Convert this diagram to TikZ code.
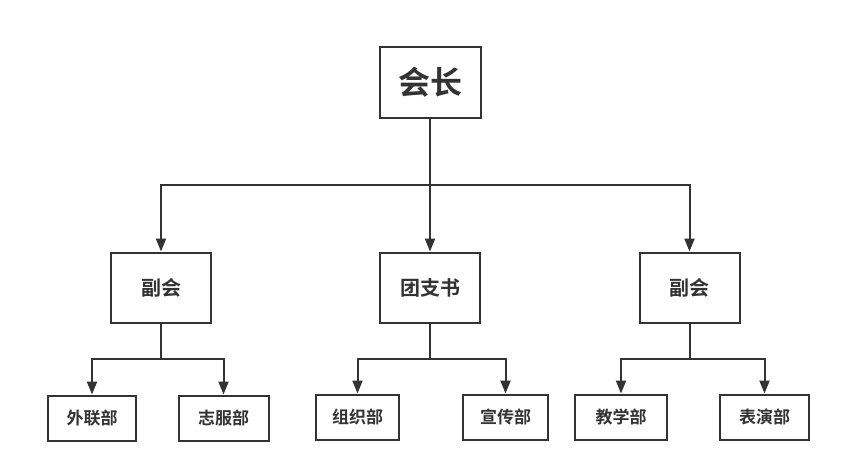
\documentclass[tikz,border=0pt]{standalone}
\usepackage{fontspec}
\newfontfamily\cjk{Noto Sans CJK SC}[BoldFont={Noto Sans CJK SC Bold}]
\usetikzlibrary{arrows.meta}
\definecolor{ln}{HTML}{333333}
\tikzset{
  box/.style={draw=ln, line width=2pt, fill=white, inner sep=0pt, font=\cjk\bfseries, text=ln},
  conn/.style={draw=ln, line width=2pt},
  arr/.style={conn, -{Triangle[length=13pt,width=10pt]}, shorten >=0pt},
}
\begin{document}
\begin{tikzpicture}[x=1pt,y=-1pt]
\useasboundingbox (0,0) rectangle (842,475);
\fill[white] (0,0) rectangle (842,475);
% top
\node[box, minimum width=101pt, minimum height=71pt, font=\cjk\bfseries\fontsize{32}{36}\selectfont] (top) at (430,82.5) {会长};
% middle
\node[box, minimum width=100pt, minimum height=70pt, font=\cjk\bfseries\fontsize{20}{24}\selectfont] (m1) at (161,287.5) {副会};
\node[box, minimum width=100pt, minimum height=70pt, font=\cjk\bfseries\fontsize{20}{24}\selectfont] (m2) at (430,287.5) {团支书};
\node[box, minimum width=100pt, minimum height=70pt, font=\cjk\bfseries\fontsize{20}{24}\selectfont] (m3) at (689.5,287.5) {副会};
% bottom
\tikzset{bbox/.style={box, minimum height=45pt, font=\cjk\bfseries\fontsize{17}{20}\selectfont}}
\node[bbox, minimum width=88pt] (b1) at (92,418) {外联部};
\node[bbox, minimum width=90pt] (b2) at (223.5,418) {志服部};
\node[bbox, minimum width=83pt] (b3) at (357.5,417) {组织部};
\node[bbox, minimum width=85pt] (b4) at (505.5,417) {宣传部};
\node[bbox, minimum width=92pt] (b5) at (621,417) {教学部};
\node[bbox, minimum width=89pt] (b6) at (764.5,417) {表演部};
% connectors
\coordinate (j0) at (430,185);
\draw[conn] (top.south) -- (j0);
\draw[arr] (j0) -| (m1.north);
\draw[arr] (j0) -| (m3.north);
\draw[arr] (j0) -- (m2.north);
\coordinate (j1) at (161,359);
\coordinate (j2) at (430,359);
\coordinate (j3) at (689.5,359);
\draw[conn] (m1.south) -- (j1);
\draw[conn] (m2.south) -- (j2);
\draw[conn] (m3.south) -- (j3);
\draw[arr] (j1) -| (b1.north);
\draw[arr] (j1) -| (b2.north);
\draw[arr] (j2) -| (b3.north);
\draw[arr] (j2) -| (b4.north);
\draw[arr] (j3) -| (b5.north);
\draw[arr] (j3) -| (b6.north);
\end{tikzpicture}
\end{document}
